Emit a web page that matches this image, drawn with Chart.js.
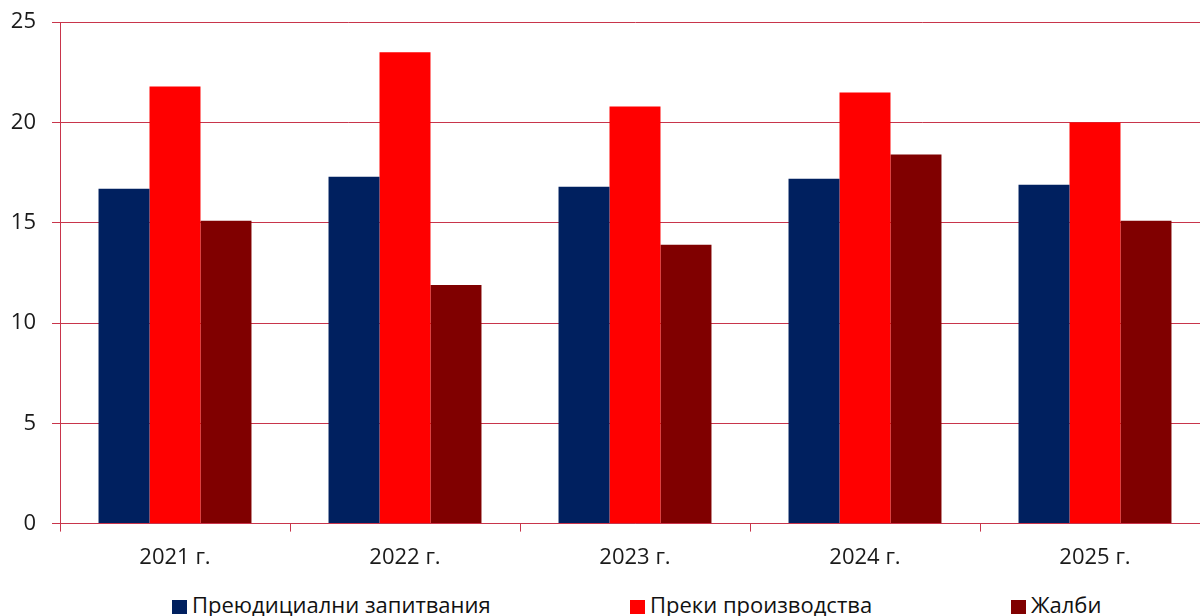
<!DOCTYPE html>
<html>
<head>
<meta charset="utf-8">
<script src="https://cdn.jsdelivr.net/npm/chart.js@4"></script>
<style>
  html, body { margin: 0; padding: 0; background: #fff; overflow: hidden; }
  #wrap { position: relative; width: 1200px; height: 616px; overflow: hidden; }
  #chart { position: absolute; left: 0; top: -7px; }
  .legend-item {
    position: absolute; top: 589px; font-family: 'Open Sans', sans-serif;
    font-size: 22px; color: #111; white-space: nowrap; line-height: normal;
  }
  .legend-item i {
    display: inline-block; width: 15px; height: 14px; margin-right: 5px;
    vertical-align: -1px;
  }
</style>
</head>
<body>
<div id="wrap">
  <canvas id="chart" width="1210" height="591"></canvas>
  <div id="legend"></div>
</div>
<script>
// Categories and series
const years = ['2021 г.', '2022 г.', '2023 г.', '2024 г.', '2025 г.'];
const preliminary = [16.7, 17.3, 16.8, 17.2, 16.9];
const direct = [21.8, 23.5, 20.8, 21.5, 20.0];
const appeals = [15.1, 11.9, 13.9, 18.4, 15.1];
const seriesNames = ['Преюдициални запитвания', 'Преки производства', 'Жалби'];
const seriesColors = ['#00205f', '#ff0000', '#800000'];

const gridRed = '#c8354b';
const textColor = '#1a1a1a';
const font = 'Open Sans';

const datasets = [preliminary, direct, appeals].map((values, i) => ({
  label: seriesNames[i],
  data: values,
  backgroundColor: seriesColors[i],
  borderWidth: 0,
  barPercentage: 1,
  categoryPercentage: 0.665,
}));

new Chart(document.getElementById('chart').getContext('2d'), {
  type: 'bar',
  data: { labels: years, datasets },
  options: {
    responsive: false,
    animation: false,
    layout: { padding: { left: 0, top: 5, right: 0, bottom: 0 } },
    plugins: {
      legend: { display: false },
      tooltip: { enabled: false },
    },
    scales: {
      x: {
        grid: {
          offset: true,
          drawOnChartArea: false,
          drawTicks: true,
          tickLength: 8,
          color: gridRed,
        },
        border: { color: gridRed, width: 1 },
        ticks: { color: textColor, font: { family: font, size: 22 }, padding: 13 },
      },
      y: {
        min: 0,
        max: 25,
        ticks: { stepSize: 5, color: textColor, font: { family: font, size: 22 }, padding: 16 },
        grid: { color: gridRed, tickLength: 8 },
        border: { color: gridRed, width: 1 },
        afterFit(scale) { scale.width = 60; },
      },
    },
  },
});

// legend with the original's uneven spacing
const legendX = [172, 630, 1011];
const legend = document.getElementById('legend');
seriesNames.forEach((name, i) => {
  const item = document.createElement('div');
  item.className = 'legend-item';
  item.style.left = legendX[i] + 'px';
  item.innerHTML = '<i style="background:' + seriesColors[i] + '"></i>' + name;
  legend.appendChild(item);
});
</script>
</body>
</html>
